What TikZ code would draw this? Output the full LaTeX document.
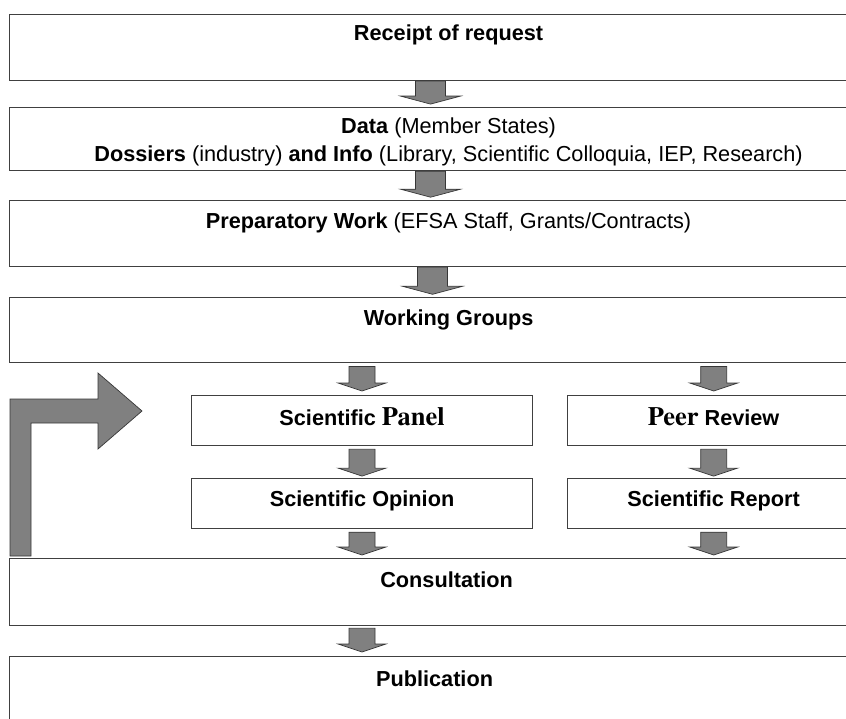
\documentclass[tikz,border=0pt]{standalone}
\usepackage{fontspec}
\setmainfont{Liberation Sans}
\newfontfamily\serifbf{texgyretermes-bold.otf}[Scale=1.22]
\usetikzlibrary{positioning, calc}
\definecolor{boxGray}{RGB}{64, 64, 64}
\definecolor{arrowGray}{RGB}{128, 128, 128}
\definecolor{edgeGray}{RGB}{55, 55, 55}

\begin{document}
\begin{tikzpicture}[
    x=1pt, y=-1pt,
    font=\fontsize{21.7}{28}\selectfont,
    stage/.style={
        rectangle,
        draw=boxGray,
        line width=1.1pt,
        minimum width=878pt,
        inner sep=0pt
    },
    subbox/.style={
        rectangle,
        draw=boxGray,
        line width=1.1pt,
        minimum height=50pt,
        inner sep=0pt
    },
    title/.style={
        anchor=base,
        align=center,
        inner sep=0pt
    },
    blockarrow/.style 2 args={
        draw=edgeGray,
        fill=arrowGray,
        line width=0.7pt,
        to path={
            let \p1=(\tikztostart), \p2=(\tikztotarget) in
            (\x1-#1,\y1) -- (\x1-#1,\y2+8pt) -- (\x1-#2,\y2+8pt) -- (\x1,\y2)
            -- (\x1+#2,\y2+8pt) -- (\x1+#1,\y2+8pt) -- (\x1+#1,\y1) -- cycle
        }
    },
    bigarrow/.style={blockarrow={15pt}{30pt}},
    smallarrow/.style={blockarrow={13pt}{24pt}}
]
\useasboundingbox (0,0) rectangle (846,719);

% Main stages
\node[stage, minimum height=66pt, anchor=north west] (recv) at (9,14) {};
\node[stage, minimum height=63pt, below=26pt of recv] (data) {};
\node[stage, minimum height=66pt, below=29pt of data] (prep) {};
\node[stage, minimum height=65pt, below=30pt of prep] (wg) {};

% Opinion and report branches
\node[subbox, minimum width=341pt, anchor=north west] (panel) at (191,395) {};
\node[subbox, minimum width=292pt, right=34pt of panel] (peer) {};
\node[subbox, minimum width=341pt, below=32pt of panel] (opinion) {};
\node[subbox, minimum width=292pt, below=32pt of peer] (report) {};

\node[stage, minimum width=874pt, minimum height=67pt, anchor=north west] (consult) at (9,558) {};
\node[stage, minimum width=850pt, minimum height=80pt, anchor=north west] (pub) at (9,656) {};

% Titles
\node[title] (recvT) at ([yshift=-27pt]recv.north) {\bfseries Receipt of request};
\node[title] (dataT) at ([yshift=-54pt]data.north) {\textbf{Data} (Member States)\\
    \textbf{Dossiers} (industry) \textbf{and Info} (Library, Scientific Colloquia, IEP, Research)};
\node[title] (prepT) at ([yshift=-28pt]prep.north) {\textbf{Preparatory Work} (EFSA Staff, Grants/Contracts)};
\node[title] (wgT) at ([yshift=-28pt]wg.north) {\bfseries Working Groups};
\node[title] (panelT) at ([yshift=-30pt]panel.north) {\bfseries Scientific {\serifbf Panel}};
\node[title] (peerT) at ([yshift=-30pt]peer.north) {\bfseries {\serifbf Peer} Review};
\node[title] (opinionT) at ([yshift=-28pt]opinion.north) {\bfseries Scientific Opinion};
\node[title] (reportT) at ([yshift=-28pt]report.north) {\bfseries Scientific Report};
\node[title] (consultT) at ([yshift=-29pt]consult.north) {\bfseries Consultation};
\node[title] (pubT) at ([yshift=-30pt]pub.north) {\bfseries Publication};

% Block arrows
\draw[bigarrow] ([xshift=-18pt]recv.south) to ([xshift=-18pt, yshift=3pt]data.north);
\draw[bigarrow] ([xshift=-18pt]data.south) to ([xshift=-18pt, yshift=3pt]prep.north);
\draw[bigarrow] ([xshift=-16pt]prep.south) to ([xshift=-16pt, yshift=3pt]wg.north);
\draw[smallarrow] ([yshift=-3pt]wg.south -| panel.north) to ([yshift=4pt]panel.north);
\draw[smallarrow] ([yshift=-3pt]wg.south -| peer.north) to ([yshift=4pt]peer.north);
\draw[smallarrow] ([yshift=-3pt]panel.south) to ([yshift=2pt]opinion.north);
\draw[smallarrow] ([yshift=-3pt]peer.south) to ([yshift=2pt]report.north);
\draw[smallarrow] ([yshift=-3pt]opinion.south) to ([yshift=3pt]consult.north -| opinion.south);
\draw[smallarrow] ([yshift=-3pt]report.south) to ([yshift=3pt]consult.north -| report.south);
\draw[smallarrow] ([yshift=-2pt]consult.south -| panel.north) to ([yshift=4pt]pub.north -| panel.north);

% Feedback arrow
\draw[draw=edgeGray, fill=arrowGray, line width=0.7pt]
    (10,556) -- (10,399) -- (98,399) -- (98,373) -- (142,411) -- (98,449)
    -- (98,423) -- (31,423) -- (31,556) -- cycle;

\end{tikzpicture}
\end{document}
